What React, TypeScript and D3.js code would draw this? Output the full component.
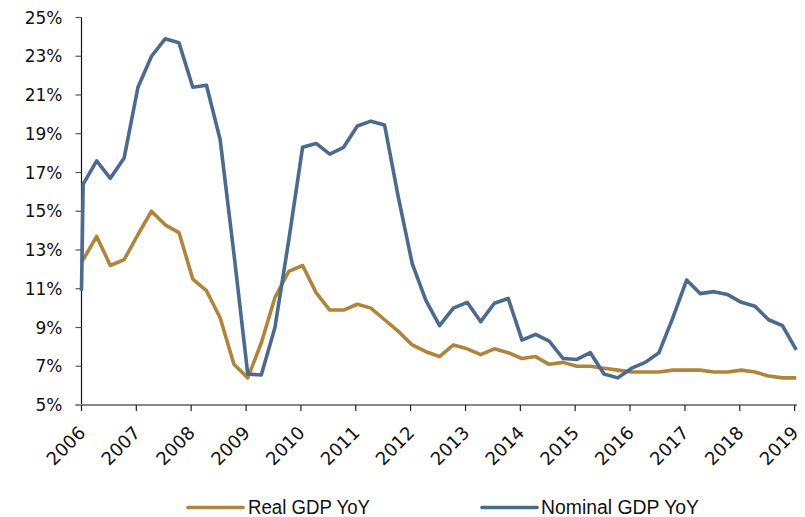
import React, { useEffect, useRef } from "react";
import * as d3 from "d3";

// Quarterly GDP growth, year over year (%), 2006Q1 – 2019Q1.
// The first entry is the opening value at the start of 2006.
const realGdpYoY = [
  12.4,
  12.5, 13.7, 12.2, 12.5, 13.8, 15.0, 14.3, 13.9, 11.5, 10.9,
  9.5, 7.1, 6.4, 8.2, 10.55, 11.9, 12.2, 10.8, 9.9, 9.9,
  10.2, 10.0, 9.4, 8.8, 8.1, 7.75, 7.5, 8.1, 7.9, 7.6,
  7.9, 7.7, 7.4, 7.5, 7.1, 7.2, 7.0, 7.0, 6.9, 6.8,
  6.7, 6.7, 6.7, 6.8, 6.8, 6.8, 6.7, 6.7, 6.8, 6.7,
  6.5, 6.4, 6.4,
];

const nominalGdpYoY = [
  10.9,
  16.4, 17.6, 16.7, 17.75, 21.4, 23.0, 23.9, 23.7, 21.4, 21.5,
  18.7, 12.8, 6.6, 6.55, 9.0, 13.5, 18.3, 18.5, 17.95, 18.3,
  19.4, 19.65, 19.45, 15.7, 12.3, 10.4, 9.1, 10.0, 10.3, 9.3,
  10.25, 10.5, 8.35, 8.65, 8.3, 7.4, 7.35, 7.7, 6.6, 6.4,
  6.9, 7.2, 7.7, 9.5, 11.45, 10.75, 10.85, 10.7, 10.3, 10.1,
  9.4, 9.1, 7.85,
];

const yearTicks = [
  2006, 2007, 2008, 2009, 2010, 2011, 2012,
  2013, 2014, 2015, 2016, 2017, 2018, 2019,
];

const percentTicks = [5, 7, 9, 11, 13, 15, 17, 19, 21, 23, 25];

const seriesNames = ["Real GDP YoY", "Nominal GDP YoY"];
const seriesColors = ["#B0843A", "#4A6A8F"];

// Observation dates: opening point, then one per quarter
const observationDates: Date[] = [new Date(2006, 0, 1)].concat(
  d3.range(53).map((i) => new Date(2006 + Math.floor(i / 4), (i % 4) * 3, 12))
);

const W = 805;
const H = 517;
const left = 81.5;
const right = 794.6;
const top = 17.5;
const bottom = 405;

export default function App() {
  const ref = useRef<SVGSVGElement | null>(null);

  useEffect(() => {
    const svg = d3.select(ref.current);
    svg.selectAll("*").remove();

    const x = d3
      .scaleTime()
      .domain([new Date(2006, 0, 1), new Date(2019, 0, 1)])
      .range([left, right]);
    const y = d3.scaleLinear().domain([5, 25]).range([bottom, top]);

    const axisFont = "'DejaVu Sans', sans-serif";

    // Y axis
    const gy = svg.append("g");
    gy.append("line")
      .attr("x1", left)
      .attr("x2", left)
      .attr("y1", top)
      .attr("y2", bottom)
      .attr("stroke", "#111")
      .attr("stroke-width", 1.2);
    percentTicks.forEach((t) => {
      gy.append("line")
        .attr("x1", left - 6)
        .attr("x2", left)
        .attr("y1", y(t))
        .attr("y2", y(t))
        .attr("stroke", "#555")
        .attr("stroke-width", 1.2);
      gy.append("text")
        .attr("x", 62.5)
        .attr("y", y(t))
        .attr("dy", "0.36em")
        .attr("text-anchor", "end")
        .attr("font-family", axisFont)
        .attr("font-size", 17)
        .attr("fill", "#111")
        .text(`${t}%`);
    });

    // X axis
    const gx = svg.append("g");
    gx.append("line")
      .attr("x1", left - 6)
      .attr("x2", 797)
      .attr("y1", bottom)
      .attr("y2", bottom)
      .attr("stroke", "#888")
      .attr("stroke-width", 2);
    yearTicks.forEach((yr) => {
      const xp = x(new Date(yr, 0, 1));
      gx.append("line")
        .attr("x1", xp)
        .attr("x2", xp)
        .attr("y1", bottom)
        .attr("y2", bottom + 6)
        .attr("stroke", "#222")
        .attr("stroke-width", 1.2);
      gx.append("text")
        .attr("transform", `translate(${xp + 5},${bottom + 29}) rotate(-45)`)
        .attr("text-anchor", "end")
        .attr("font-family", axisFont)
        .attr("font-size", 18)
        .attr("fill", "#111")
        .text(String(yr));
    });

    // Series lines
    const series = [realGdpYoY, nominalGdpYoY];
    const line = d3
      .line<number>()
      .x((_, i) => x(observationDates[i]))
      .y((d) => y(d));
    series.forEach((vals, s) => {
      svg
        .append("path")
        .attr("d", line(vals))
        .attr("fill", "none")
        .attr("stroke", seriesColors[s])
        .attr("stroke-width", 3.6)
        .attr("stroke-linejoin", "round");
    });

    // Legend
    const legendItems = [
      { x0: 188, x1: 243, tx: 248, tw: 122 },
      { x0: 482, x1: 537, tx: 541, tw: 158 },
    ];
    legendItems.forEach((it, s) => {
      svg
        .append("line")
        .attr("x1", it.x0)
        .attr("x2", it.x1)
        .attr("y1", 507.5)
        .attr("y2", 507.5)
        .attr("stroke", seriesColors[s])
        .attr("stroke-width", 3.6)
        .attr("stroke-linecap", "round");
      svg
        .append("text")
        .attr("x", it.tx)
        .attr("y", 514.3)
        .attr("font-family", "'Liberation Sans', Arial, sans-serif")
        .attr("font-size", 19.5)
        .attr("textLength", it.tw)
        .attr("lengthAdjust", "spacingAndGlyphs")
        .attr("fill", "#111")
        .text(seriesNames[s]);
    });
  }, []);

  return (
    <svg
      ref={ref}
      width={W}
      height={H}
      style={{ position: "absolute", left: 0, top: 0, background: "#fff" }}
    />
  );
}
